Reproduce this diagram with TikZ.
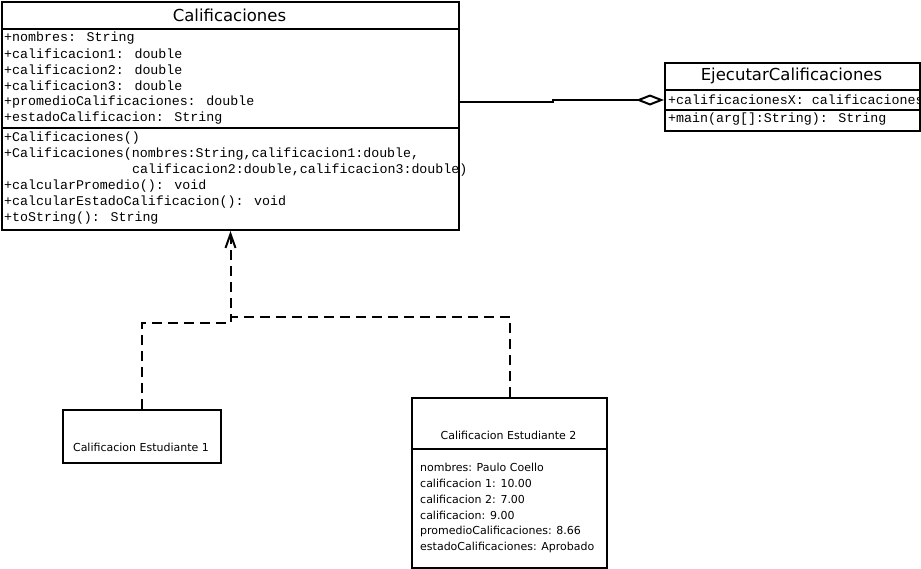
\documentclass[tikz,border=0pt]{standalone}
\usepackage{fontspec}
\setmainfont{DejaVu Sans}
\newfontfamily\umlmono{Liberation Mono}
\usetikzlibrary{arrows.meta}

\tikzset{
  umlbox/.style={draw,line width=2pt,anchor=north west,inner sep=0pt},
  umlrule/.style={line width=2pt},
  umltitle/.style={inner sep=0pt,font=\fontsize{16.5}{18}\selectfont},
  membertext/.style={anchor=west,inner sep=0pt,font=\umlmono\fontsize{13.3}{16}\selectfont},
  objtext/.style={anchor=west,inner sep=0pt,font=\fontsize{11}{14}\selectfont},
  objtitle/.style={inner sep=0pt,font=\fontsize{11}{14}\selectfont},
  realize/.style={line width=2pt,dash pattern=on 10pt off 6pt},
  aggreg/.style={line width=2pt,-{Diamond[open,length=28pt,width=11pt]}},
}

\begin{document}
\begin{tikzpicture}[x=1pt,y=-1pt]
\useasboundingbox (0,0) rectangle (921,568);

% ---------------- class Calificaciones ----------------
\node[umlbox,minimum width=457pt,minimum height=228pt] (calif) at (1,1) {};
\draw[umlrule] (1,29) -- (458,29);
\draw[umlrule] (1,128) -- (458,128);
\node[umltitle] (califName) at (229.5,15) {Calificaciones};
\foreach \txt [count=\i] in {{+nombres: String},{+calificacion1: double},
    {+calificacion2: double},{+calificacion3: double},
    {+promedioCalificaciones: double},{+estadoCalificacion: String}}
  \node[membertext] (califAttr\i) at (4,22+16*\i) {\txt};
\foreach \txt [count=\i] in {{+Calificaciones()},
    {+Calificaciones(nombres:String,calificacion1:double,},
    {},{+calcularPromedio(): void},
    {+calcularEstadoCalificacion(): void},{+toString(): String}}
  \node[membertext] (califOp\i) at (4,122+16*\i) {\txt};
\node[membertext] (califOpCont) at (132,170) {calificacion2:double,calificacion3:double)};

% ---------------- class EjecutarCalificaciones ----------------
\node[umlbox,minimum width=255pt,minimum height=68pt] (ejec) at (664,62) {};
\draw[umlrule] (664,90) -- (919,90);
\draw[umlrule] (664,110) -- (919,110);
\node[umltitle] (ejecName) at (791.5,76) {EjecutarCalificaciones};
\node[membertext] (ejecAttr) at (668,100) {+calificacionesX: calificaciones};
\node[membertext] (ejecOp) at (668,119) {+main(arg[]:String): String};

% ---------------- aggregation ----------------
\coordinate (aggStart) at (calif.east |- 0,102);
\coordinate (aggEnd) at (ejec.west |- 0,100);
\draw[aggreg] (aggStart) -- (553,102) -- (553,100) -- (aggEnd);

% ---------------- objects ----------------
\node[umlbox,minimum width=158pt,minimum height=53pt] (stud1) at (62,409) {};
\node[objtitle] (stud1Name) at (141,447) {Calificacion Estudiante 1};

\node[umlbox,minimum width=195pt,minimum height=170pt] (stud2) at (411,397) {};
\draw[umlrule] (411,449) -- (606,449);
\node[objtitle] (stud2Name) at (508.5,435) {Calificacion Estudiante 2};
\foreach \txt [count=\i] in {{nombres: Paulo Coello},{calificacion 1: 10.00},
    {calificacion 2: 7.00},{calificacion: 9.00},
    {promedioCalificaciones: 8.66},{estadoCalificaciones: Aprobado}}
  \node[objtext] (stud2Attr\i) at (420,451+16*\i) {\txt};

% ---------------- realization ----------------
\coordinate (joinA) at (calif.south |- 0,323);
\coordinate (joinB) at (calif.south |- 0,317);
\draw[realize] (stud1.north) |- (joinA) -- (joinB);
\draw[realize,-{Straight Barb[length=14pt,width=10pt]}] (stud2.north) |- (joinB) -- (calif.south);
\end{tikzpicture}
\end{document}
